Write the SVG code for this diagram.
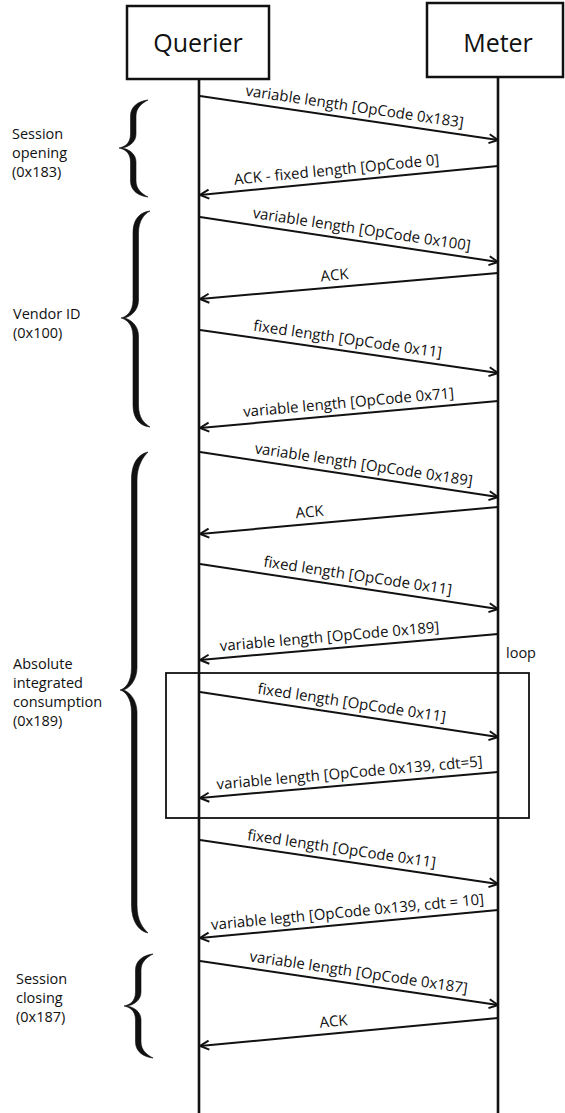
<svg xmlns="http://www.w3.org/2000/svg" width="565" height="1113" viewBox="0 0 565 1113">
<style>
.box{fill:#fff;stroke:#111;stroke-width:2.5}
.life{stroke:#111;stroke-width:2.6}
.msg{stroke:#111;stroke-width:2;fill:none}
.brace{fill:#111;stroke:#111;stroke-width:0.6}
.title{font-family:"Open Sans","Noto Sans",sans-serif;font-size:25px;fill:#111;text-anchor:middle}
.lbl{font-family:"Open Sans","Noto Sans",sans-serif;font-size:15px;fill:#111;text-anchor:middle}
.side{font-family:"Open Sans","Noto Sans",sans-serif;font-size:14.5px;fill:#111}
.loop{fill:none;stroke:#111;stroke-width:1.8}
</style>
<defs>
<marker id="ah" viewBox="0 0 12 12" markerWidth="12" markerHeight="12" refX="11" refY="6" orient="auto" markerUnits="userSpaceOnUse">
<path d="M2,1.5 L11,6 L2,10.5" fill="none" stroke="#111" stroke-width="2"/>
</marker>
</defs>
<rect width="565" height="1113" fill="#fff"/>

<g id="node-querier">
<line class="life" x1="199" y1="79" x2="199" y2="1113"/>
<rect class="box" x="127" y="6" width="142" height="73"/>
<text class="title" x="198" y="52">Querier</text>
</g>
<g id="node-meter">
<line class="life" x1="498" y1="77" x2="498" y2="1113"/>
<rect class="box" x="427" y="3" width="136" height="74"/>
<text class="title" x="498" y="52">Meter</text>
</g>

<g id="loop-frame">
<rect class="loop" x="166" y="673" width="363" height="145"/>
<text class="side" x="506" y="658">loop</text>
</g>

<g id="group-session-opening">
<path class="brace" d="M148,100 C139,101 130.5,106 130.5,116 L130.5,134 C130.5,144 124,147 119,148 C124,149 130.5,152 130.5,162 L130.5,181 C130.5,191 139,196 148,197 C142,194 136,189 136,181 L136,162 C136,153 128,149 122,148 C128,147 136,143 136,134 L136,116 C136,108 142,103 148,100 Z"/>
<text class="side" x="12" y="139">Session</text>
<text class="side" x="12" y="158">opening</text>
<text class="side" x="12" y="177">(0x183)</text>
</g>
<g id="group-vendor-id">
<path class="brace" d="M150,211 C141,212 133,218 133,233 L133,300 C133,312 126,317 121,318 C126,319 133,324 133,336 L133,405 C133,420 141,426 150,427 C144,423 138.5,418 138.5,405 L138.5,336 C138.5,325 130,319 124,318 C130,317 138.5,311 138.5,300 L138.5,233 C138.5,221 144,214 150,211 Z"/>
<text class="side" x="13" y="319">Vendor ID</text>
<text class="side" x="13" y="338">(0x100)</text>
</g>
<g id="group-absolute">
<path class="brace" d="M148,452 C139,454 131.5,462 131.5,480 L131.5,668 C131.5,682 125,689 120,690 C125,691 131.5,698 131.5,712 L131.5,905 C131.5,922 139,931 148,933 C143,928 137,921 137,905 L137,712 C137,700 129,691 123,690 C129,689 137,680 137,668 L137,480 C137,466 143,457 148,452 Z"/>
<text class="side" x="13" y="669">Absolute</text>
<text class="side" x="13" y="688">integrated</text>
<text class="side" x="13" y="707">consumption</text>
<text class="side" x="13" y="726">(0x189)</text>
</g>
<g id="group-session-closing">
<path class="brace" d="M153,954 C144,955 135.5,960 135.5,970 L135.5,992 C135.5,1002 129,1005 124,1006 C129,1007 135.5,1010 135.5,1020 L135.5,1042 C135.5,1052 144,1057 153,1058 C147,1055 141,1050 141,1042 L141,1020 C141,1011 133,1007 127,1006 C133,1005 141,1001 141,992 L141,970 C141,962 147,957 153,954 Z"/>
<text class="side" x="16" y="984">Session</text>
<text class="side" x="16" y="1003">closing</text>
<text class="side" x="16" y="1022">(0x187)</text>
</g>

<g id="connectors">
<line class="msg" x1="200" y1="96" x2="498" y2="140" marker-end="url(#ah)"/>
<line class="msg" x1="498" y1="166" x2="200" y2="195" marker-end="url(#ah)"/>
<line class="msg" x1="200" y1="217" x2="498" y2="262" marker-end="url(#ah)"/>
<line class="msg" x1="498" y1="273" x2="200" y2="299" marker-end="url(#ah)"/>
<line class="msg" x1="200" y1="330" x2="498" y2="373" marker-end="url(#ah)"/>
<line class="msg" x1="498" y1="401" x2="200" y2="428" marker-end="url(#ah)"/>
<line class="msg" x1="200" y1="452" x2="498" y2="497" marker-end="url(#ah)"/>
<line class="msg" x1="498" y1="507" x2="200" y2="534" marker-end="url(#ah)"/>
<line class="msg" x1="200" y1="564" x2="498" y2="609" marker-end="url(#ah)"/>
<line class="msg" x1="498" y1="634" x2="200" y2="660" marker-end="url(#ah)"/>
<line class="msg" x1="200" y1="692" x2="498" y2="737" marker-end="url(#ah)"/>
<line class="msg" x1="498" y1="772" x2="200" y2="798" marker-end="url(#ah)"/>
<line class="msg" x1="200" y1="840" x2="498" y2="884" marker-end="url(#ah)"/>
<line class="msg" x1="498" y1="910" x2="200" y2="938" marker-end="url(#ah)"/>
<line class="msg" x1="200" y1="961" x2="498" y2="1005" marker-end="url(#ah)"/>
<line class="msg" x1="498" y1="1018" x2="200" y2="1046" marker-end="url(#ah)"/>

<text class="lbl" transform="translate(354,111.7) rotate(8.4)">variable length [OpCode 0x183]</text>
<text class="lbl" transform="translate(337,174.7) rotate(-5.56)">ACK - fixed length [OpCode 0]</text>
<text class="lbl" transform="translate(361,234.3) rotate(8.59)">variable length [OpCode 0x100]</text>
<text class="lbl" transform="translate(335,280.2) rotate(-4.99)">ACK</text>
<text class="lbl" transform="translate(347,344.2) rotate(8.21)">fixed length [OpCode 0x11]</text>
<text class="lbl" transform="translate(349,407.5) rotate(-5.18)">variable length [OpCode 0x71]</text>
<text class="lbl" transform="translate(363,469.6) rotate(8.59)">variable length [OpCode 0x189]</text>
<text class="lbl" transform="translate(310,517) rotate(-5.18)">ACK</text>
<text class="lbl" transform="translate(357,580.7) rotate(8.59)">fixed length [OpCode 0x11]</text>
<text class="lbl" transform="translate(330,641.7) rotate(-4.99)">variable length [OpCode 0x189]</text>
<text class="lbl" transform="translate(351,707.8) rotate(8.59)">fixed length [OpCode 0x11]</text>
<text class="lbl" transform="translate(350,777.9) rotate(-4.99)">variable length [OpCode 0x139, cdt=5]</text>
<text class="lbl" transform="translate(341,853.8) rotate(8.4)">fixed length [OpCode 0x11]</text>
<text class="lbl" transform="translate(348,917.1) rotate(-5.37)">variable legth [OpCode 0x139, cdt = 10]</text>
<text class="lbl" transform="translate(358,977.3) rotate(8.4)">variable length [OpCode 0x187]</text>
<text class="lbl" transform="translate(334,1026.4) rotate(-5.37)">ACK</text>
</g>
</svg>
